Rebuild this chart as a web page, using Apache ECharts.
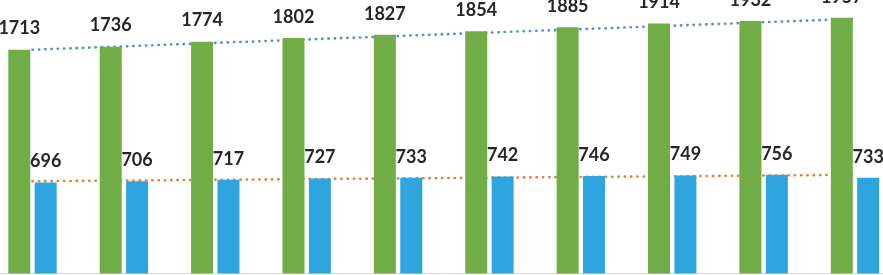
<!DOCTYPE html>
<html>
<head>
<meta charset="utf-8">
<script src="https://cdn.jsdelivr.net/npm/echarts@6/dist/echarts.min.js"></script>
<style>
html,body{margin:0;padding:0;background:#fff;}
#chart{width:883px;height:275px;}
</style>
</head>
<body>
<div id="chart"></div>
<script>
const categories = ['1','2','3','4','5','6','7','8','9','10'];
const greenValues = [1713, 1736, 1774, 1802, 1827, 1854, 1885, 1914, 1932, 1957];
const blueValues = [696, 706, 717, 727, 733, 742, 746, 749, 756, 733];
const greenTrend = [1712, 1949];
const blueTrend = [706, 755];

const chart = echarts.init(document.getElementById('chart'), null, {renderer: 'canvas'});
const labelStyle = {
  show: true,
  position: 'top',
  distance: 12,
  color: '#262626',
  fontFamily: 'Lato',
  fontWeight: 'bold',
  fontSize: 18
};
const last = categories.length - 1;
chart.setOption({
  animation: false,
  grid: {left: -13.2, width: 913.9, top: -14, height: 287.5, containLabel: false, outerBoundsMode: 'none'},
  xAxis: {
    type: 'category',
    data: categories,
    axisLine: {show: true, lineStyle: {color: '#d9d9d9', width: 1}},
    axisTick: {show: false},
    axisLabel: {show: false}
  },
  yAxis: {
    type: 'value',
    min: 0,
    max: 2200,
    show: false,
    splitLine: {show: false}
  },
  series: [
    {
      type: 'bar',
      data: greenValues,
      barWidth: 22,
      barGap: '20%',
      itemStyle: {color: '#70AD47'},
      label: labelStyle,
      z: 3
    },
    {
      type: 'bar',
      data: blueValues,
      barWidth: 22,
      barGap: '20%',
      itemStyle: {color: '#2FA5E0'},
      label: labelStyle,
      z: 3
    },
    {
      type: 'line',
      data: [[0, greenTrend[0]], [last, greenTrend[1]]],
      symbol: 'none',
      lineStyle: {color: '#5B8FD0', width: 2.6, type: [0.4, 5.9], cap: 'round'},
      z: 1,
      silent: true
    },
    {
      type: 'line',
      data: [[0, blueTrend[0]], [last, blueTrend[1]]],
      symbol: 'none',
      lineStyle: {color: '#E8803A', width: 2.6, type: [0.4, 5.9], cap: 'round'},
      z: 1,
      silent: true
    }
  ]
});
</script>
</body>
</html>
